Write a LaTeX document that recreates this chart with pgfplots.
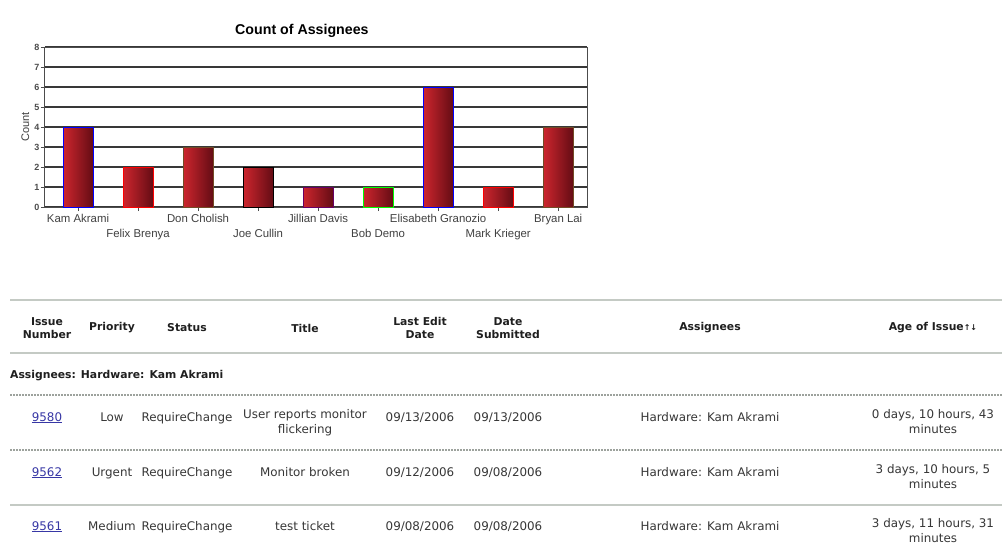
\documentclass[border=0pt]{standalone}
\usepackage{pgfplots}
\pgfplotsset{compat=1.18}
\usepackage{fontspec}
\setmainfont{DejaVu Sans}
\newfontfamily\chartfont{Liberation Sans}
\definecolor{barL}{RGB}{205,38,46}
\definecolor{barR}{RGB}{100,12,20}
\definecolor{linkblue}{RGB}{55,55,165}
\definecolor{sepgray}{RGB}{196,202,196}
\definecolor{txt}{RGB}{55,55,55}
\begin{document}
\begin{tikzpicture}[x=1pt,y=-1pt]
\path[use as bounding box, fill=white] (0,0) rectangle (1002,550);
\begin{axis}[
  at={(45pt,-207pt)}, anchor=south west,
  scale only axis, width=542pt, height=160pt,
  xmin=-0.55, xmax=8.48, ymin=0, ymax=8,
  ytick={0,...,8},
  /pgf/number format/assume math mode=true,
  ymajorgrids, grid style={black!78, line width=1.1pt},
  xtick={0,...,8},
  xticklabels={Kam Akrami,{\strut\\Felix Brenya},Don Cholish,{\strut\\Joe Cullin},Jillian Davis,{\strut\\Bob Demo},Elisabeth Granozio,{\strut\\Mark Krieger},Bryan Lai},
  xticklabel style={font=\chartfont\fontsize{11.4}{13.5}\selectfont, align=center, text=black!75, inner sep=1pt, yshift=-2pt},
  yticklabel style={font=\chartfont\bfseries\fontsize{9}{10}\selectfont, text=black!70, inner sep=1.5pt},
  ylabel={Count},
  ylabel style={font=\chartfont\fontsize{11}{12}\selectfont, text=black!75},
  title={Count of Assignees},
  title style={font=\chartfont\bfseries\fontsize{14.2}{16}\selectfont, at={(0.474,1)}, anchor=south, yshift=0pt},
  axis line style={black!70, line width=1pt},
  tick style={black!70},
  tick align=outside, major tick length=4pt,
  xtick pos=bottom, ytick pos=left,
  ybar, bar width=30pt, bar shift=0pt,
  every axis plot/.style={draw=black!60!red!50!black, line width=0.4pt, left color=barL, right color=barR},
]
\addplot coordinates {(0,4)};
\addplot coordinates {(1,2)};
\addplot coordinates {(2,3)};
\addplot coordinates {(3,2)};
\addplot coordinates {(4,1)};
\addplot coordinates {(5,1)};
\addplot coordinates {(6,6)};
\addplot coordinates {(7,1)};
\addplot coordinates {(8,4)};
\end{axis}

% table
\begin{scope}[every node/.style={text=txt, inner sep=0pt, font=\fontsize{11.9}{15}\selectfont, align=center}]
\draw[sepgray, line width=2pt] (10,300) -- (1002,300);
\draw[sepgray, line width=2pt] (10,353) -- (1002,353);
\begin{scope}[every node/.append style={font=\bfseries\fontsize{10.8}{13.5}\selectfont, text=black!88}]
\node at (47,328) {Issue\\Number};
\node at (112,328) {Priority};
\node at (187,328) {Status};
\node at (305,328) {Title};
\node at (420,328) {Last Edit\\Date};
\node at (508,328) {Date\\Submitted};
\node at (710,328) {Assignees};
\node at (933,328) {Age of Issue{\fontsize{8}{8}\selectfont ↑↓}};
\node[anchor=west] at (10,376) {Assignees: Hardware: Kam Akrami};
\end{scope}
\draw[sepgray!80!black, line width=1.2pt, dash pattern=on 2pt off 1pt] (10,395) -- (1002,395);
\draw[sepgray!80!black, line width=1.2pt, dash pattern=on 2pt off 1pt] (10,450) -- (1002,450);
\draw[sepgray, line width=2pt] (10,505) -- (1002,505);
% row 1
\node[anchor=base, text=linkblue] at (47,421) {\underline{9580}};
\node[anchor=base] at (112,421) {Low};
\node[anchor=base] at (187,421) {RequireChange};
\node[anchor=north] at (305,409.5) {User reports monitor\\flickering};
\node[anchor=base] at (420,421) {09/13/2006};
\node[anchor=base] at (508,421) {09/13/2006};
\node[anchor=base] at (710,421) {Hardware: Kam Akrami};
\node[anchor=north] at (933,409.5) {0 days, 10 hours, 43\\minutes};
% row 2
\node[anchor=base, text=linkblue] at (47,476) {\underline{9562}};
\node[anchor=base] at (112,476) {Urgent};
\node[anchor=base] at (187,476) {RequireChange};
\node[anchor=base] at (305,476) {Monitor broken};
\node[anchor=base] at (420,476) {09/12/2006};
\node[anchor=base] at (508,476) {09/08/2006};
\node[anchor=base] at (710,476) {Hardware: Kam Akrami};
\node[anchor=north] at (933,464.5) {3 days, 10 hours, 5\\minutes};
% row 3
\node[anchor=base, text=linkblue] at (47,530) {\underline{9561}};
\node[anchor=base] at (112,530) {Medium};
\node[anchor=base] at (187,530) {RequireChange};
\node[anchor=base] at (305,530) {test ticket};
\node[anchor=base] at (420,530) {09/08/2006};
\node[anchor=base] at (508,530) {09/08/2006};
\node[anchor=base] at (710,530) {Hardware: Kam Akrami};
\node[anchor=north] at (933,518.5) {3 days, 11 hours, 31\\minutes};
\end{scope}
\end{tikzpicture}
\end{document}
